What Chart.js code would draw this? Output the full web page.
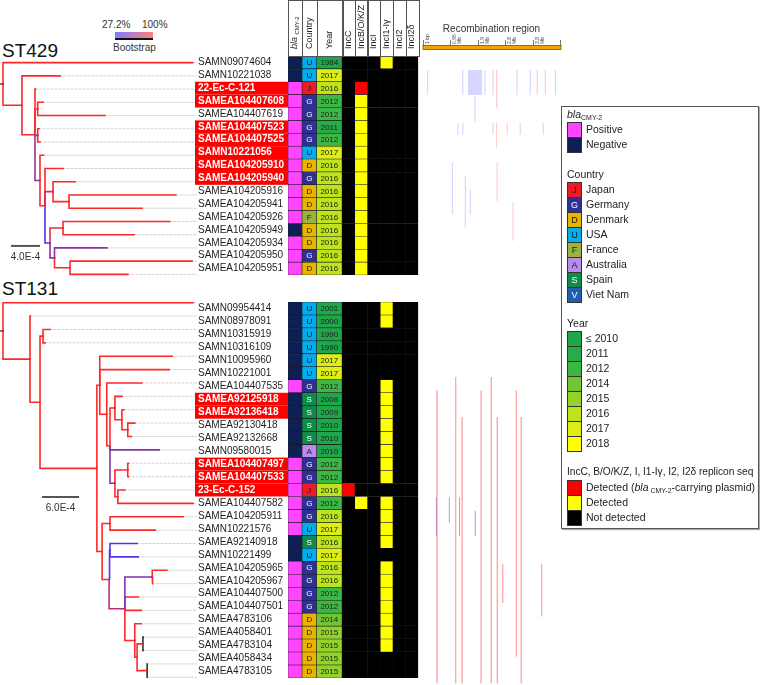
<!DOCTYPE html>
<html>
<head>
<meta charset="utf-8">
<title>ST429 / ST131 phylogeny</title>
<script src="https://cdn.jsdelivr.net/npm/chart.js@4.4.1/dist/chart.umd.min.js"></script>
<style>
  body { margin: 0; background: #fff; font-family: Arial, "Liberation Sans", sans-serif; color: #222; }
  #page { position: relative; width: 760px; height: 685px; overflow: hidden; }
  .abs { position: absolute; }
  .st { font-size: 19px; line-height: 20px; color: #111; }
  .small { font-size: 10px; line-height: 12px; color: #333; }
  #bootbar { left: 115px; top: 32px; width: 38px; height: 6px; background: linear-gradient(to right, #7e7eff, #ff7e7e); border-bottom: 2px solid #111; }
  #legend { left: 561px; top: 106px; width: 198px; height: 423px; border: 1px solid #555; box-shadow: 1px 1px 1px #aaa; box-sizing: border-box; }
  .lg-head { position: absolute; left: 5px; font-size: 10.5px; line-height: 13px; white-space: nowrap; }
  .lg-head.tight { font-size: 10.2px; letter-spacing: -0.05px; }
  .lg-head sub, .lg-row sub { font-size: 7px; vertical-align: -2px; }
  .lg-row { position: absolute; left: 5px; height: 15px; line-height: 15px; font-size: 10.5px; white-space: nowrap; }
  .sw { position: absolute; left: 0; top: 0; width: 15px; height: 16px; border: 1px solid #333; box-sizing: border-box; text-align: center; font-size: 9px; line-height: 14px; }
  .lg-row span.t { position: absolute; left: 19px; top: 0; }
</style>
</head>
<body>
<div id="page">
  <div class="abs st" style="left:2px;top:41px">ST429</div>
  <div class="abs st" style="left:2px;top:279px">ST131</div>
  <div class="abs small" id="bsLow" style="left:102px;top:19px"></div>
  <div class="abs small" id="bsHigh" style="left:142px;top:19px"></div>
  <div class="abs" id="bootbar"></div>
  <div class="abs small" style="left:113px;top:42px">Bootstrap</div>

  <div class="abs" style="left:0;top:56px;width:197px;height:225px"><canvas id="tree429"></canvas></div>
  <div class="abs" style="left:195px;top:0;width:225px;height:281px"><canvas id="heat429"></canvas></div>
  <div class="abs" style="left:420px;top:0;width:142px;height:281px"><canvas id="rec429"></canvas></div>

  <div class="abs" style="left:0;top:296px;width:197px;height:388px"><canvas id="tree131"></canvas></div>
  <div class="abs" style="left:195px;top:296px;width:225px;height:388px"><canvas id="heat131"></canvas></div>
  <div class="abs" style="left:420px;top:296px;width:142px;height:388px"><canvas id="rec131"></canvas></div>

  <div class="abs" id="legend"></div>
</div>

<script>
// ---------------- data ----------------
const bootstrapRange = ['27.2%', '100%'];

// ST429 clade, rows top to bottom
const st429Labels = ['SAMN09074604', 'SAMN10221038', '22-Ec-C-121', 'SAMEA104407608', 'SAMEA104407619',
  'SAMEA104407523', 'SAMEA104407525', 'SAMN10221056', 'SAMEA104205910', 'SAMEA104205940', 'SAMEA104205916',
  'SAMEA104205941', 'SAMEA104205926', 'SAMEA104205949', 'SAMEA104205934', 'SAMEA104205950', 'SAMEA104205951'];
const st429Marked = [2, 3, 5, 6, 7, 8, 9];
const st429Bla = ['N', 'N', 'P', 'P', 'P', 'P', 'P', 'P', 'P', 'P', 'P', 'P', 'P', 'N', 'P', 'P', 'P'];
const st429Country = ['U', 'U', 'J', 'G', 'G', 'G', 'G', 'U', 'D', 'G', 'D', 'D', 'F', 'D', 'D', 'G', 'D'];
const st429Year = [1984, 2017, 2016, 2012, 2012, 2011, 2012, 2017, 2016, 2016, 2016, 2016, 2016, 2016, 2016, 2016, 2016];
// replicons IncC, IncB/O/K/Z, IncI, IncI1-Iγ, IncI2, IncI2δ : 0 none, 1 detected, 2 blaCMY-2 plasmid
const st429Inc = ['000100', '000000', '020000', '010000', '010000', '010000', '010000', '010000', '010000',
  '010000', '010000', '010000', '010000', '010000', '010000', '010000', '010000'];
// internal nodes: [id, parent, depth (x1E-4), bootstrap %]
const st429Nodes = [
  ['R', null, 0, 100], ['A', 'R', 2.81, 100], ['B', 'A', 4.74, 95], ['C', 'B', 5.14, 100],
  ['D', 'B', 5.14, 35], ['E', 'B', 5.48, 60], ['P', 'E', 6.22, 100], ['S', 'P', 7.41, 85],
  ['T', 'S', 9.78, 100], ['Q', 'P', 6.96, 30], ['U', 'Q', 8.89, 90], ['V', 'Q', 7.63, 55], ['W', 'V', 9.93, 100]
];
// tips, same order as labels: [parent, depth, bootstrap]
const st429Tips = [
  ['R', 28.1], ['A', 8.44], ['B', 4.81], ['C', 5.93], ['C', 15.1], ['D', 5.33], ['D', 5.48], ['E', 6.0],
  ['P', 8.89], ['S', 10.67], ['T', 25.6], ['T', 20.6], ['U', 24.7], ['U', 19.4], ['V', 15.4, 55], ['W', 28.0], ['W', 18.5]
];
// recombination: [start Mb, end Mb, first row, last row, r/b]
const st429Recomb = [
  [1.56, 2.05, 1, 2, 'b'], [0.14, 0.18, 1, 2, 'r'], [1.36, 1.4, 1, 2, 'b'], [2.13, 2.17, 1, 2, 'b'],
  [2.41, 2.45, 1, 2, 'r'], [2.53, 2.58, 1, 3, 'r'], [3.24, 3.28, 1, 2, 'b'], [3.7, 3.74, 1, 2, 'b'],
  [3.94, 3.98, 1, 2, 'r'], [4.22, 4.26, 1, 2, 'r'], [4.57, 4.61, 1, 2, 'b'], [1.78, 1.82, 3, 4, 'b'],
  [1.19, 1.23, 5, 5, 'b'], [1.36, 1.4, 5, 5, 'b'], [2.41, 2.45, 5, 5, 'b'], [2.53, 2.57, 5, 6, 'r'],
  [2.9, 2.94, 5, 5, 'r'], [3.35, 3.39, 5, 5, 'b'], [4.15, 4.19, 5, 5, 'r'], [1.0, 1.04, 8, 11, 'b'],
  [1.45, 1.49, 9, 12, 'b'], [1.62, 1.66, 10, 11, 'b'], [2.55, 2.59, 8, 10, 'r'], [3.1, 3.14, 11, 13, 'r']
];

// ST131 clade
const st131Labels = ['SAMN09954414', 'SAMN08978091', 'SAMN10315919', 'SAMN10316109', 'SAMN10095960',
  'SAMN10221001', 'SAMEA104407535', 'SAMEA92125918', 'SAMEA92136418', 'SAMEA92130418', 'SAMEA92132668',
  'SAMN09580015', 'SAMEA104407497', 'SAMEA104407533', '23-Ec-C-152', 'SAMEA104407582', 'SAMEA104205911',
  'SAMN10221576', 'SAMEA92140918', 'SAMN10221499', 'SAMEA104205965', 'SAMEA104205967', 'SAMEA104407500',
  'SAMEA104407501', 'SAMEA4783106', 'SAMEA4058401', 'SAMEA4783104', 'SAMEA4058434', 'SAMEA4783105'];
const st131Marked = [7, 8, 12, 13, 14];
const st131Bla = ['N', 'N', 'N', 'N', 'N', 'N', 'P', 'N', 'N', 'N', 'N', 'N', 'P', 'P', 'P', 'P', 'P', 'P',
  'N', 'N', 'P', 'P', 'P', 'P', 'P', 'P', 'P', 'P', 'P'];
const st131Country = ['U', 'U', 'U', 'U', 'U', 'U', 'G', 'S', 'S', 'S', 'S', 'A', 'G', 'G', 'J', 'G', 'G', 'U',
  'S', 'U', 'G', 'G', 'G', 'G', 'D', 'D', 'D', 'D', 'D'];
const st131Year = [2001, 2000, 1990, 1990, 2017, 2017, 2012, 2008, 2009, 2010, 2010, 2010, 2012, 2012, 2016,
  2012, 2016, 2017, 2016, 2017, 2016, 2016, 2012, 2012, 2014, 2015, 2015, 2015, 2015];
const st131Inc = ['000100', '000100', '000000', '000000', '000000', '000000', '000100', '000100', '000100',
  '000100', '000100', '000100', '000100', '000100', '200000', '010100', '000100', '000100', '000100', '000000',
  '000100', '000100', '000100', '000100', '000100', '000100', '000100', '000000', '000000'];
const st131Nodes = [
  ['R', null, 0, 100], ['A', 'R', 4.63, 100], ['B', 'A', 6.35, 100], ['C', 'B', 6.86, 100],
  ['D', 'B', 16.1, 100], ['E', 'D', 16.6, 100], ['F', 'E', 17.8, 100], ['M', 'F', 18.35, 100],
  ['G', 'M', 19.2, 100], ['G2', 'G', 20.4, 100], ['H', 'G2', 21.4, 100], ['J', 'M', 19.2, 50],
  ['I', 'J', 21.4, 100], ['K', 'J', 19.7, 100], ['O', 'D', 17.0, 100], ['N', 'O', 18.35, 100],
  ['P', 'O', 18.2, 100], ['P2', 'P', 18.35, 30], ['Q', 'P', 20.9, 70], ['R1', 'Q', 25.6, 50],
  ['S1', 'Q', 22.6, 100], ['S2', 'S1', 23.0, 100], ['T1', 'S2', 24.0, 100], ['T2', 'S2', 24.7, 100]
];
const st131Tips = [
  ['R', 32.6], ['A', 4.7], ['C', 8.06], ['C', 7.2], ['E', 29.0], ['E', 28.5], ['F', 23.8], ['G', 20.4],
  ['G2', 20.75], ['H', 22.6], ['H', 22.0], ['M', 26.8, 50], ['I', 21.5], ['I', 21.5], ['K', 20.9], ['K', 32.6],
  ['N', 30.9], ['N', 26.1], ['P2', 23.0, 30], ['P2', 23.2, 30], ['R1', 28.1], ['R1', 25.7], ['Q', 23.2],
  ['Q', 23.7], ['S1', 23.7], ['T1', 24.05, null], ['T1', 24.05, null], ['T2', 24.75, null], ['T2', 24.75, null]
];
const st131Recomb = [
  [0.47, 0.5, 7, 28, 'r'], [1.12, 1.15, 6, 28, 'r'], [1.34, 1.37, 9, 28, 'r'], [2.0, 2.03, 7, 28, 'r'],
  [2.35, 2.38, 6, 28, 'r'], [2.56, 2.59, 9, 28, 'r'], [3.22, 3.25, 7, 26, 'r'], [3.39, 3.42, 9, 28, 'r'],
  [0.45, 0.48, 15, 17, 'b'], [0.9, 0.93, 15, 16, 'b'], [1.25, 1.28, 15, 17, 'b'], [1.8, 1.83, 16, 17, 'b'],
  [2.75, 2.78, 20, 22, 'r'], [4.1, 4.13, 20, 23, 'r']
];

const genomeTicks = [0, 0.95, 1.9, 2.85, 3.8, 4.75];
const genomeTickLabels = ['1 bp', '0.95 Mb', '1.9 Mb', '2.8 Mb', '3.8 Mb', '4.7 Mb'];
const incNames = ['IncC', 'IncB/O/K/Z', 'IncI', 'IncI1-Iγ', 'IncI2', 'IncI2δ'];

// ---------------- colours ----------------
const BLA_COLORS = { P: '#ff45ff', N: '#0d1f55' };
const COUNTRY_COLORS = { J: '#ed1c24', G: '#2e3192', D: '#e8b400', U: '#00aeef', F: '#99b33d', A: '#b98af0', S: '#0e8c4a', V: '#1f5fae' };
const COUNTRY_NAMES = { J: 'Japan', G: 'Germany', D: 'Denmark', U: 'USA', F: 'France', A: 'Australia', S: 'Spain', V: 'Viet Nam' };
const LIGHT_TEXT = ['G', 'S', 'V'];
const YEAR_COLORS = { 2010: '#1da64a', 2011: '#27ac47', 2012: '#3cb644', 2014: '#6fc535', 2015: '#93d228', 2016: '#bde31c', 2017: '#dcee18', 2018: '#ffff00' };
const INC_COLORS = { 0: '#000000', 1: '#ffff00', 2: '#ff0000' };
const yearColor = y => YEAR_COLORS[Math.max(2010, y)];

const supportColor = s => {
  if (s === null) return '#333333';
  const t = Math.max(0, Math.min(1, (s - 27.2) / 72.8));
  return `rgb(${Math.round(75 + t * 180)},${Math.round(55 - t * 15)},${Math.round(235 - t * 195)})`;
};

Chart.defaults.font.family = 'Arial, "Liberation Sans", sans-serif';

const baseOptions = () => ({
  animation: false,
  responsive: true,
  maintainAspectRatio: false,
  devicePixelRatio: 1,
  events: [],
  plugins: { legend: { display: false }, tooltip: { enabled: false } }
});

// ---------------- tree ----------------
const scaleBarPlugin = {
  id: 'scaleBar',
  afterDatasetsDraw(chart) {
    const ctx = chart.ctx;
    chart.data.datasets.forEach((ds, i) => {
      if (!ds.barLabel) return;
      const pts = chart.getDatasetMeta(i).data;
      ctx.save();
      ctx.fillStyle = '#333';
      ctx.font = '10px Arial, "Liberation Sans", sans-serif';
      ctx.textAlign = 'center';
      ctx.textBaseline = 'top';
      ctx.fillText(ds.barLabel, (pts[0].x + pts[1].x) / 2, pts[0].y + 6);
      ctx.restore();
    });
  }
};

function drawTree(id, nodes, tips, pxPerUnit, bar) {
  const info = {};
  const kids = {};
  nodes.forEach(([nid, parent, depth, sup]) => { info[nid] = { parent, depth, sup }; kids[nid] = []; });
  nodes.forEach(([nid, parent]) => { if (parent) kids[parent].push(nid); });
  tips.forEach(([parent, depth, sup], i) => {
    const nid = 'tip' + i;
    info[nid] = { parent, depth, sup: sup === undefined ? 100 : sup, y: i, tip: true };
    kids[parent].push(nid);
  });
  const yOf = nid => {
    const n = info[nid];
    if (n.y === undefined) {
      const ys = kids[nid].map(yOf);
      n.y = (Math.min(...ys) + Math.max(...ys)) / 2;
    }
    return n.y;
  };

  const el = document.getElementById(id);
  const width = el.parentNode.clientWidth;
  const xMin = -3 / pxPerUnit;
  const xMax = xMin + width / pxPerUnit;

  const datasets = [];
  Object.keys(info).forEach(nid => {
    const n = info[nid];
    if (!n.parent) {
      datasets.push({ data: [{ x: xMin, y: yOf(nid) }, { x: 0, y: yOf(nid) }], borderColor: '#444', borderWidth: 1.4, order: 0 });
      return;
    }
    const p = info[n.parent];
    const py = yOf(n.parent);
    const cy = yOf(nid);
    datasets.push({
      data: [{ x: p.depth, y: py }, { x: p.depth, y: cy }, { x: n.depth, y: cy }],
      borderColor: supportColor(n.sup), borderWidth: 1.6, order: 0
    });
    if (n.tip) {
      datasets.push({
        data: [{ x: n.depth, y: cy }, { x: xMax, y: cy }],
        borderColor: '#c6c6c6', borderWidth: 0.8, borderDash: [2, 2], order: 1
      });
    }
  });
  datasets.push({
    data: [{ x: bar.from, y: bar.row }, { x: bar.from + bar.length, y: bar.row }],
    borderColor: '#555', borderWidth: 2, order: 0, barLabel: bar.label
  });
  datasets.forEach(d => { d.showLine = true; d.pointRadius = 0; d.fill = false; d.borderCapStyle = 'square'; });

  const opts = baseOptions();
  opts.scales = {
    x: { type: 'linear', display: false, min: xMin, max: xMax },
    y: { type: 'linear', display: false, min: -0.5, max: tips.length - 0.5, reverse: true }
  };
  new Chart(el, { type: 'scatter', data: { datasets }, options: opts, plugins: [scaleBarPlugin] });
}

// ---------------- heatmap ----------------
const markPlugin = {
  id: 'marks',
  beforeDraw(chart, args, o) {
    const { ctx, chartArea, scales: { y } } = chart;
    const h = (chartArea.bottom - chartArea.top) / chart.data.labels.length;
    ctx.save();
    ctx.fillStyle = '#ff0000';
    o.rows.forEach(r => {
      const cy = y.getPixelForValue(r);
      ctx.fillRect(0, cy - h / 2, chartArea.left, h);
    });
    ctx.restore();
  }
};

const cellTextPlugin = {
  id: 'cellText',
  afterDatasetsDraw(chart) {
    const ctx = chart.ctx;
    ctx.save();
    ctx.textAlign = 'center';
    ctx.textBaseline = 'middle';
    chart.data.datasets.forEach((ds, i) => {
      if (!ds.cellText) return;
      ctx.font = ds.cellFont;
      chart.getDatasetMeta(i).data.forEach((el, j) => {
        ctx.fillStyle = ds.cellTextColor ? ds.cellTextColor[j] : '#222';
        ctx.fillText(ds.cellText[j], (el.x + el.base) / 2, el.y + 0.5);
      });
    });
    ctx.restore();
  }
};

const headerPlugin = {
  id: 'header',
  afterDraw(chart, args, o) {
    if (!o.show) return;
    const { ctx, chartArea } = chart;
    const top = chartArea.top;
    ctx.save();
    ctx.strokeStyle = '#555';
    ctx.lineWidth = 1;
    ctx.fillStyle = '#222';
    chart.data.datasets.forEach((ds, i) => {
      const el = chart.getDatasetMeta(i).data[0];
      const x0 = Math.min(el.x, el.base);
      const x1 = Math.max(el.x, el.base);
      ctx.strokeRect(Math.round(x0) + 0.5, 0.5, Math.round(x1 - x0), top);
      ctx.save();
      ctx.translate((x0 + x1) / 2, top - 7);
      ctx.rotate(-Math.PI / 2);
      ctx.textAlign = 'left';
      ctx.textBaseline = 'middle';
      if (ds.label === 'bla') {
        ctx.font = 'italic 9px Arial, "Liberation Sans", sans-serif';
        ctx.fillText('bla', 0, -1);
        const w = ctx.measureText('bla ').width;
        ctx.font = '6px Arial, "Liberation Sans", sans-serif';
        ctx.fillText('CMY-2', w, 2.5);
      } else {
        ctx.font = '9px Arial, "Liberation Sans", sans-serif';
        ctx.fillText(ds.label, 0, 0);
      }
      ctx.restore();
    });
    ctx.restore();
  }
};

function drawHeatmap(id, labels, marked, bla, country, year, inc, header) {
  const columns = [
    { name: 'bla', w: 14, bg: bla.map(v => BLA_COLORS[v]), line: '#1b1b1b' },
    { name: 'Country', w: 14.5, bg: country.map(c => COUNTRY_COLORS[c]), line: '#1b1b1b',
      text: country, textColor: country.map(c => LIGHT_TEXT.includes(c) ? '#ffffff' : '#1a1a1a'), font: '8px Arial, "Liberation Sans", sans-serif' },
    { name: 'Year', w: 25.5, bg: year.map(yearColor), line: '#1b1b1b',
      text: year.map(String), font: '8px Arial, "Liberation Sans", sans-serif' }
  ];
  incNames.forEach((name, k) => {
    columns.push({
      name, w: 12.7,
      bg: inc.map(s => INC_COLORS[s[k]]),
      line: inc.map(s => (s[k] === '0' ? '#000000' : '#333333'))
    });
  });
  const total = columns.reduce((a, c) => a + c.w, 0);

  const datasets = columns.map(c => ({
    label: c.name,
    data: labels.map(() => c.w),
    backgroundColor: c.bg,
    borderColor: c.line,
    borderWidth: 0.6,
    borderSkipped: false,
    categoryPercentage: 1,
    barPercentage: 1,
    cellText: c.text,
    cellTextColor: c.textColor,
    cellFont: c.font
  }));

  const opts = baseOptions();
  opts.indexAxis = 'y';
  opts.layout = { padding: { top: header ? 56 : 0, left: 3, right: 1.7, bottom: 0 } };
  opts.plugins.marks = { rows: marked };
  opts.plugins.header = { show: header };
  opts.scales = {
    x: { stacked: true, display: false, min: 0, max: total },
    y: {
      stacked: true,
      grid: { display: false },
      border: { display: false },
      afterFit: s => { s.width = 90; },
      ticks: {
        autoSkip: false,
        padding: 0,
        crossAlign: 'far',
        font: ctx => ({ size: 10, weight: marked.includes(ctx.index) ? 'bold' : 'normal' }),
        color: ctx => (marked.includes(ctx.index) ? '#ffffff' : '#1e1e1e')
      }
    }
  };
  new Chart(document.getElementById(id), {
    type: 'bar',
    data: { labels, datasets },
    options: opts,
    plugins: [markPlugin, cellTextPlugin, headerPlugin]
  });
}

// ---------------- recombination ----------------
const genomeAxisPlugin = {
  id: 'genomeAxis',
  afterDraw(chart, args, o) {
    if (!o.show) return;
    const { ctx, scales: { x } } = chart;
    const x0 = x.getPixelForValue(x.min);
    const x1 = x.getPixelForValue(x.max);
    ctx.save();
    ctx.fillStyle = '#333';
    ctx.font = '10px Arial, "Liberation Sans", sans-serif';
    ctx.textAlign = 'center';
    ctx.textBaseline = 'middle';
    ctx.fillText('Recombination region', (x0 + x1) / 2, 29);
    ctx.fillStyle = '#f5a300';
    ctx.fillRect(x0, 45.5, x1 - x0 + 1, 4);
    ctx.strokeStyle = '#7a5200';
    ctx.lineWidth = 0.8;
    ctx.strokeRect(x0, 45.5, x1 - x0 + 1, 4);
    genomeTicks.forEach((v, i) => {
      const px = Math.round(x.getPixelForValue(v)) + 0.5;
      ctx.strokeStyle = '#555';
      ctx.beginPath();
      ctx.moveTo(px, 40);
      ctx.lineTo(px, 46);
      ctx.stroke();
      const parts = genomeTickLabels[i].endsWith('Mb') ? genomeTickLabels[i].split(' ') : [genomeTickLabels[i]];
      ctx.fillStyle = '#444';
      ctx.font = '5px Arial, "Liberation Sans", sans-serif';
      parts.forEach((t, k) => {
        ctx.save();
        ctx.translate(px + 2 + k * 5, 44);
        ctx.rotate(-Math.PI / 2);
        ctx.textAlign = 'left';
        ctx.textBaseline = 'top';
        ctx.fillText(t, 0, 0);
        ctx.restore();
      });
    });
    ctx.restore();
  }
};

function drawRecomb(id, rows, events, axis) {
  const datasets = events.map(([s, e, r0, r1, kind]) => ({
    data: [{ x: (s + e) / 2, y: r0 - 0.45 }, { x: (s + e) / 2, y: r1 + 0.45 }],
    borderColor: kind === 'b' ? 'rgba(120,120,255,0.3)' : 'rgba(255,95,95,0.3)',
    borderWidth: ctx => Math.max(1, Math.abs(ctx.chart.scales.x.getPixelForValue(e) - ctx.chart.scales.x.getPixelForValue(s))),
    borderCapStyle: 'butt',
    showLine: true,
    pointRadius: 0,
    fill: false
  }));
  const opts = baseOptions();
  opts.layout = { padding: { top: axis ? 56 : 0, left: 3, right: 2, bottom: 0 } };
  opts.plugins.genomeAxis = { show: axis };
  opts.scales = {
    x: { type: 'linear', display: false, min: genomeTicks[0], max: genomeTicks[genomeTicks.length - 1] },
    y: { type: 'linear', display: false, min: -0.5, max: rows - 0.5, reverse: true }
  };
  new Chart(document.getElementById(id), { type: 'scatter', data: { datasets }, options: opts, plugins: [genomeAxisPlugin] });
}

// ---------------- legend ----------------
function buildLegend() {
  const box = document.getElementById('legend');
  const groups = [
    { head: '<i>bla</i><sub>CMY-2</sub>', headTop: 1, top: 15,
      rows: [['Positive', BLA_COLORS.P, ''], ['Negative', BLA_COLORS.N, '']] },
    { head: 'Country', headTop: 61, top: 75,
      rows: Object.keys(COUNTRY_NAMES).map(k => [COUNTRY_NAMES[k], COUNTRY_COLORS[k], k, LIGHT_TEXT.includes(k) ? '#fff' : '#1a1a1a']) },
    { head: 'Year', headTop: 210, top: 224,
      rows: Object.keys(YEAR_COLORS).map(k => [k === '2010' ? '≤ 2010' : k, YEAR_COLORS[k], '']) },
    { head: 'IncC, B/O/K/Z, I, I1-Iγ, I2, I2δ replicon seq', headTop: 358, top: 373, tight: true,
      rows: [['Detected (<i>bla</i><sub> CMY-2</sub>-carrying plasmid)', INC_COLORS[2], ''], ['Detected', INC_COLORS[1], ''], ['Not detected', INC_COLORS[0], '']] }
  ];
  let html = '';
  groups.forEach(g => {
    html += `<div class="lg-head${g.tight ? ' tight' : ''}" style="top:${g.headTop}px">${g.head}</div>`;
    g.rows.forEach(([text, color, letter, fg], i) => {
      html += `<div class="lg-row" style="top:${g.top + i * 15}px"><span class="sw" style="background:${color};color:${fg || '#111'}">${letter}</span><span class="t">${text}</span></div>`;
    });
  });
  box.innerHTML = html;
  document.getElementById('bsLow').textContent = bootstrapRange[0];
  document.getElementById('bsHigh').textContent = bootstrapRange[1];
}

buildLegend();
drawTree('tree429', st429Nodes, st429Tips, 6.75, { from: 1.33, length: 4, row: 13.85, label: '4.0E-4' });
drawHeatmap('heat429', st429Labels, st429Marked, st429Bla, st429Country, st429Year, st429Inc, true);
drawRecomb('rec429', st429Labels.length, st429Recomb, true);
drawTree('tree131', st131Nodes, st131Tips, 5.83, { from: 6.86, length: 6, row: 14.52, label: '6.0E-4' });
drawHeatmap('heat131', st131Labels, st131Marked, st131Bla, st131Country, st131Year, st131Inc, false);
drawRecomb('rec131', st131Labels.length, st131Recomb, false);
</script>
</body>
</html>
